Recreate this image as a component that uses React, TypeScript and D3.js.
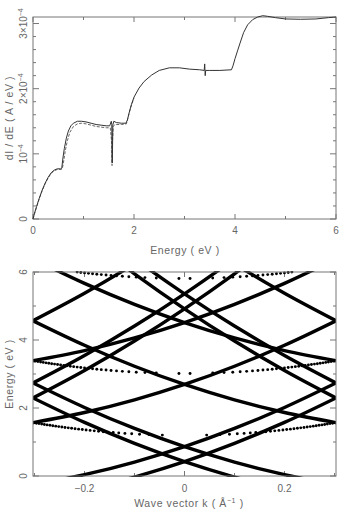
import React from 'react';
import * as d3 from 'd3';

// dI/dE spectrum, energy in eV, dI/dE in units of 1e-4 A/eV
const specEnergy = [0, 0.03, 0.07, 0.12, 0.18, 0.24, 0.3, 0.36, 0.42, 0.48, 0.55, 0.57, 0.59, 0.62, 0.66, 0.7, 0.75, 0.8, 0.88, 0.96, 1.05, 1.15, 1.25, 1.35, 1.45, 1.52, 1.55, 1.56, 1.565, 1.57, 1.575, 1.58, 1.6, 1.65, 1.75, 1.84, 1.87, 1.9, 1.95, 2.0, 2.1, 2.2, 2.35, 2.5, 2.7, 2.9, 3.1, 3.3, 3.39, 3.4, 3.41, 3.42, 3.5, 3.7, 3.93, 3.96, 4.0, 4.05, 4.1, 4.17, 4.25, 4.35, 4.45, 4.55, 4.65, 4.8, 5.0, 5.3, 5.6, 5.85, 6.0];
const specMain = [0, 0.09, 0.19, 0.31, 0.44, 0.55, 0.64, 0.71, 0.75, 0.77, 0.77, 0.78, 0.92, 1.08, 1.24, 1.35, 1.43, 1.47, 1.5, 1.5, 1.49, 1.47, 1.45, 1.44, 1.43, 1.43, 1.5, 1.45, 1.0, 0.86, 1.1, 1.44, 1.5, 1.48, 1.47, 1.47, 1.52, 1.62, 1.76, 1.87, 2.01, 2.11, 2.21, 2.28, 2.32, 2.32, 2.3, 2.29, 2.28, 2.38, 2.2, 2.28, 2.28, 2.28, 2.29, 2.35, 2.46, 2.58, 2.7, 2.86, 2.98, 3.06, 3.1, 3.12, 3.11, 3.09, 3.07, 3.065, 3.07, 3.09, 3.1];
// second run, differs only below 2 eV
const altEnergy = [0, 0.03, 0.07, 0.12, 0.18, 0.24, 0.3, 0.36, 0.42, 0.48, 0.55, 0.58, 0.61, 0.64, 0.68, 0.73, 0.8, 0.88, 0.96, 1.05, 1.15, 1.25, 1.35, 1.45, 1.53, 1.555, 1.565, 1.575, 1.59, 1.62, 1.75, 1.85, 1.88, 1.93, 2.0];
const altValue = [0, 0.08, 0.18, 0.3, 0.43, 0.54, 0.63, 0.7, 0.74, 0.76, 0.76, 0.77, 0.9, 1.05, 1.2, 1.33, 1.42, 1.46, 1.47, 1.46, 1.44, 1.42, 1.41, 1.4, 1.4, 1.2, 0.82, 1.2, 1.42, 1.45, 1.45, 1.46, 1.55, 1.7, 1.86];

// folded sub-band branches: energies (eV) at the k points below
const branchK = [-0.303, -0.2, -0.1, 0, 0.1, 0.2, 0.303];
const branches = [
  [2.296, 1.576, 0.959, 0.423, -0.03, -0.403, -0.7],
  [-0.7, -0.403, -0.03, 0.423, 0.959, 1.576, 2.296],
  [8.29, 7.059, 5.948, 4.918, 3.97, 3.103, 2.296],
  [2.296, 3.103, 3.97, 4.918, 5.948, 7.059, 8.29],
  [2.736, 2.016, 1.399, 0.863, 0.41, 0.038, -0.26],
  [-0.26, 0.038, 0.41, 0.863, 1.399, 2.016, 2.736],
  [8.73, 7.499, 6.388, 5.358, 4.41, 3.543, 2.736],
  [2.736, 3.543, 4.41, 5.358, 6.388, 7.499, 8.73],
  [4.566, 3.846, 3.229, 2.693, 2.24, 1.868, 1.57],
  [1.57, 1.868, 2.24, 2.693, 3.229, 3.846, 4.566],
  [10.56, 9.329, 8.218, 7.188, 6.24, 5.373, 4.566],
  [4.566, 5.373, 6.24, 7.188, 8.218, 9.329, 10.56],
  [6.386, 5.666, 5.049, 4.513, 4.06, 3.688, 3.39],
  [3.39, 3.688, 4.06, 4.513, 5.049, 5.666, 6.386],
];

// flat branches near the zone centre, sampled points (|k| in 1/Å, E in eV), symmetric in k
const lowDotK = [0.0443, 0.0709, 0.0899, 0.1056, 0.1192, 0.1315, 0.1426, 0.153, 0.1627, 0.1719, 0.1805, 0.1888, 0.1968, 0.2044, 0.2118, 0.2189, 0.2258, 0.2325, 0.239, 0.2453, 0.2515, 0.2575, 0.2634, 0.2691, 0.2748, 0.2803, 0.2857, 0.291, 0.2962, 0.3013];
const lowDotE = [1.203, 1.216, 1.228, 1.241, 1.253, 1.266, 1.278, 1.291, 1.303, 1.316, 1.328, 1.341, 1.353, 1.366, 1.378, 1.391, 1.403, 1.416, 1.428, 1.441, 1.453, 1.466, 1.478, 1.491, 1.503, 1.516, 1.528, 1.541, 1.553, 1.566];
const midDotK = [0.0111, 0.0564, 0.0791, 0.0965, 0.1113, 0.1243, 0.136, 0.1469, 0.1569, 0.1664, 0.1754, 0.1839, 0.1921, 0.1999, 0.2074, 0.2147, 0.2217, 0.2285, 0.2351, 0.2415, 0.2478, 0.2539, 0.2599, 0.2657, 0.2714, 0.277, 0.2825, 0.2878, 0.2931, 0.2983];
const midDotE = [3.016, 3.028, 3.041, 3.053, 3.066, 3.078, 3.091, 3.103, 3.116, 3.128, 3.141, 3.153, 3.166, 3.178, 3.191, 3.203, 3.216, 3.228, 3.241, 3.253, 3.266, 3.278, 3.291, 3.303, 3.316, 3.328, 3.341, 3.353, 3.366, 3.378];
const topDotK = [0.0111, 0.0564, 0.0791, 0.0965, 0.1113, 0.1243, 0.136, 0.1469, 0.1569, 0.1664, 0.1754, 0.1839, 0.1921, 0.1999, 0.2074, 0.2147];
const topDotE = [5.811, 5.823, 5.836, 5.848, 5.861, 5.873, 5.886, 5.898, 5.911, 5.923, 5.936, 5.948, 5.961, 5.973, 5.986, 5.998];

const topXTicks = [0, 1, 2, 3, 4, 5, 6];
const topXLabels = [0, 2, 4, 6];
const topYTicks = d3.range(0, 3.01, 0.2);
const topYMajor = [0, 1, 2, 3];
const botXTicks = [-0.3, -0.2, -0.1, 0, 0.1, 0.2, 0.3];
const botXMajor = [-0.2, 0, 0.2];
const botYTicks = [0, 1, 2, 3, 4, 5, 6];
const botYMajor = [0, 2, 4, 6];

const FONT = '"Liberation Sans", Arial, sans-serif';
const GREY = '#666';

function Frame({ x0, x1, y0, y1 }: { x0: number; x1: number; y0: number; y1: number }) {
  return <rect x={x0} y={y0} width={x1 - x0} height={y1 - y0} fill="none" stroke="#777" strokeWidth={1} />;
}

export default function App() {
  const xE = d3.scaleLinear().domain([0, 6]).range([33, 336]);
  const yI = d3.scaleLinear().domain([0, 3.1]).range([219, 17]);
  const xK = d3.scaleLinear().domain([-0.303, 0.303]).range([33, 336]);
  const yB = d3.scaleLinear().domain([0, 6]).range([476, 272]);

  const line = d3.line<[number, number]>().x(d => xE(d[0])).y(d => yI(d[1]));
  const mainPath = line(specEnergy.map((e, i) => [e, specMain[i]] as [number, number])) || '';
  const altPath = line(altEnergy.map((e, i) => [e, altValue[i]] as [number, number])) || '';

  const bandLine = d3.line<[number, number]>().x(d => xK(d[0])).y(d => yB(d[1])).curve(d3.curveMonotoneX);

  const isMajor = (v: number, list: number[]) => list.some(m => Math.abs(m - v) < 1e-6);

  const dots = (ks: number[], es: number[], key: string) =>
    ks.flatMap((k, i) => [
      <circle key={key + 'p' + i} cx={xK(k)} cy={yB(es[i])} r={1.45} fill="#000" />,
      <circle key={key + 'n' + i} cx={xK(-k)} cy={yB(es[i])} r={1.45} fill="#000" />,
    ]);

  return (
    <svg width={344} height={509} style={{ position: 'absolute', left: 0, top: 0, background: '#fff' }} fontFamily={FONT}>
      {/* ---------- upper panel: dI/dE ---------- */}
      <g>
        {topXTicks.map(t => (
          <g key={'tx' + t} stroke="#777">
            <line x1={xE(t)} x2={xE(t)} y1={219} y2={219 - (isMajor(t, topXLabels) ? 5 : 3)} />
            <line x1={xE(t)} x2={xE(t)} y1={17} y2={17 + (isMajor(t, topXLabels) ? 5 : 3)} />
          </g>
        ))}
        {topYTicks.map((t, i) => (
          <g key={'ty' + i} stroke="#777">
            <line x1={33} x2={33 + (isMajor(t, topYMajor) ? 6 : 3)} y1={yI(t)} y2={yI(t)} />
            <line x1={336} x2={336 - (isMajor(t, topYMajor) ? 6 : 3)} y1={yI(t)} y2={yI(t)} />
          </g>
        ))}
        <Frame x0={33} x1={336} y0={17} y1={219} />
        {topXLabels.map(t => (
          <text key={'txl' + t} x={xE(t)} y={234} fontSize={10} fill={GREY} textAnchor="middle">{t}</text>
        ))}
        {topYMajor.map(t => (
          <text key={'tyl' + t} transform={`translate(27,${yI(t)}) rotate(-90)`} fontSize={10} fill={GREY} textAnchor="middle">
            {t === 0 ? '0' : (
              <>
                {t === 1 ? '10' : `${t}\u00d710`}
                <tspan fontSize={7} dy={-4}>−4</tspan>
              </>
            )}
          </text>
        ))}
        <text transform="translate(13,118) rotate(-90)" fontSize={10.5} fill={GREY} textAnchor="middle" letterSpacing={0.6}>dI / dE ( A / eV )</text>
        <text x={185} y={254} fontSize={10.5} fill={GREY} textAnchor="middle" letterSpacing={0.6}>Energy ( eV )</text>
        <path d={altPath} fill="none" stroke="#555" strokeWidth={0.9} strokeDasharray="3,1.5" />
        <path d={mainPath} fill="none" stroke="#333" strokeWidth={1} />
      </g>

      {/* ---------- lower panel: bands ---------- */}
      <g>
        {botXTicks.map((t, i) => (
          <g key={'bx' + i} stroke="#777">
            <line x1={xK(t)} x2={xK(t)} y1={476} y2={476 - (isMajor(t, botXMajor) ? 5 : 3)} />
            <line x1={xK(t)} x2={xK(t)} y1={272} y2={272 + (isMajor(t, botXMajor) ? 5 : 3)} />
          </g>
        ))}
        {botYTicks.map(t => (
          <g key={'by' + t} stroke="#777">
            <line x1={33} x2={33 + (isMajor(t, botYMajor) ? 6 : 3)} y1={yB(t)} y2={yB(t)} />
            <line x1={336} x2={336 - (isMajor(t, botYMajor) ? 6 : 3)} y1={yB(t)} y2={yB(t)} />
          </g>
        ))}
        <clipPath id="bandClip"><rect x={33} y={271} width={303} height={206} /></clipPath>
        <g clipPath="url(#bandClip)">
          {branches.map((es, i) => (
            <path key={'br' + i} d={bandLine(branchK.map((k, j) => [k, es[j]] as [number, number])) || ''} fill="none" stroke="#000" strokeWidth={3.4} />
          ))}
          {dots(lowDotK, lowDotE, 'lo')}
          {dots(midDotK, midDotE, 'mi')}
          {dots(topDotK, topDotE, 'to')}
        </g>
        <Frame x0={33} x1={336} y0={272} y1={476} />
        {botXMajor.map(t => (
          <text key={'bxl' + t} x={xK(t)} y={492} fontSize={10} fill={GREY} textAnchor="middle">{t === 0 ? '0' : (t < 0 ? '−' + Math.abs(t) : String(t))}</text>
        ))}
        {botYMajor.map(t => (
          <text key={'byl' + t} transform={`translate(27,${yB(t)}) rotate(-90)`} fontSize={10} fill={GREY} textAnchor="middle">{t}</text>
        ))}
        <text transform="translate(13,374) rotate(-90)" fontSize={10.5} fill={GREY} textAnchor="middle" letterSpacing={0.6}>Energy ( eV )</text>
        <text x={189} y={507} fontSize={10.5} fill={GREY} textAnchor="middle" letterSpacing={0.6}>
          Wave vector k  ( Å<tspan fontSize={7} dy={-4}>−1</tspan><tspan dy={4}> )</tspan>
        </text>
      </g>
    </svg>
  );
}
